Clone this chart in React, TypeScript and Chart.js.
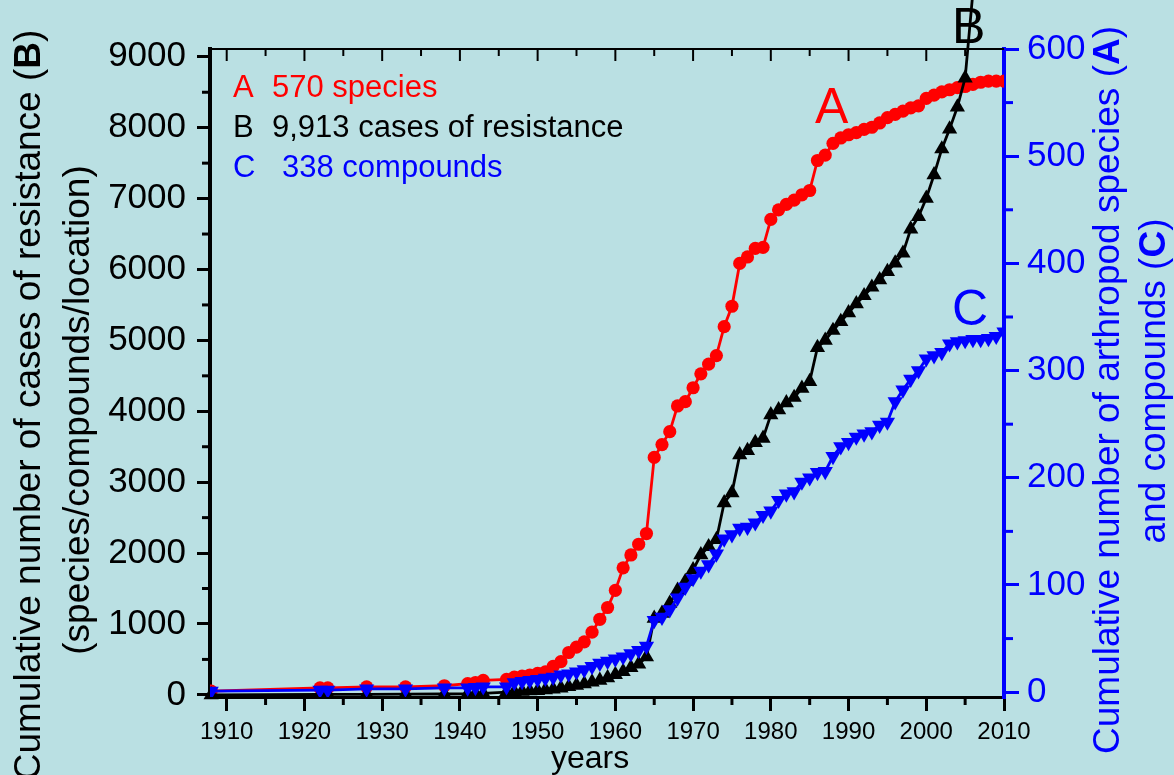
import React, { useEffect, useRef } from 'react';
import { Chart, registerables } from 'chart.js';

Chart.register(...registerables);

// ---------- data ----------
const YEARS = [
  1908, 1922, 1923, 1928, 1933, 1938, 1941, 1942, 1943,
  1946, 1947, 1948, 1949, 1950, 1951, 1952, 1953, 1954, 1955,
  1956, 1957, 1958, 1959, 1960, 1961, 1962, 1963, 1964, 1965,
  1966, 1967, 1968, 1969, 1970, 1971, 1972, 1973, 1974, 1975,
  1976, 1977, 1978, 1979, 1980, 1981, 1982, 1983, 1984, 1985,
  1986, 1987, 1988, 1989, 1990, 1991, 1992, 1993, 1994, 1995,
  1996, 1997, 1998, 1999, 2000, 2001, 2002, 2003, 2004, 2005,
  2006, 2007, 2008, 2009, 2010,
];

// A: cumulative arthropod species (right axis)
const SPECIES_A = [
  1, 4, 4, 5, 5, 6, 8, 9, 11,
  12, 14, 15, 16, 17.5, 19, 24, 28.5, 37, 42,
  47, 56, 68, 79, 95, 116, 128, 138, 148, 219,
  231, 243, 267, 271, 284, 297, 306, 314, 341, 360,
  400, 406, 414, 415, 441, 450, 455, 459, 464, 468,
  496, 501, 512, 517, 520, 522, 525, 527, 531, 536,
  539, 542, 545, 547, 554, 557, 560, 562, 564, 565,
  567, 569, 570, 570, 570,
];

// B: cumulative cases of resistance (left axis), data through 2006
const CASES_B = [
  1, 5, 6, 8, 10, 12, 15, 18, 22,
  40, 45, 50, 55, 60, 70, 80, 95, 115, 135,
  155, 180, 205, 240, 285, 330, 385, 435, 535, 1080,
  1150, 1290, 1475, 1600, 1765, 1975, 2090, 2190, 2710, 2850,
  3385, 3445, 3560, 3620, 3950, 4020, 4120, 4195, 4325, 4420,
  4900, 5000, 5140, 5265, 5390, 5515, 5630, 5750, 5855, 5970,
  6090, 6230, 6570, 6745, 7005, 7335, 7700, 7980, 8290, 8700,
  9913,
];

// C: cumulative compounds (right axis)
const COMPOUNDS_C = [
  1, 2, 2, 3, 3, 4, 4, 4.5, 5,
  5, 9, 10, 11, 12, 13, 14, 16, 17, 19,
  21, 24, 27, 29, 31, 33, 36, 39, 43, 67,
  70, 77, 88, 98, 106, 113, 119, 129, 143, 147,
  153, 154, 158, 165, 169, 179, 185, 187, 196, 200,
  205, 206, 220, 229, 233, 238, 241, 243, 249, 252,
  271, 282, 292, 300, 311, 314, 317, 325, 327, 328,
  329, 329, 330, 332, 336,
];

const X_TICKS = [1910, 1920, 1930, 1940, 1950, 1960, 1970, 1980, 1990, 2000, 2010];
const LEFT_TICKS = [0, 1000, 2000, 3000, 4000, 5000, 6000, 7000, 8000, 9000];
const RIGHT_TICKS = [0, 100, 200, 300, 400, 500, 600];

const LEGEND_LINES = [
  { key: 'A', text: '570 species' },
  { key: 'B', text: '9,913 cases of resistance' },
  { key: 'C', text: '338 compounds' },
];
const X_TITLE = 'years';
const LEFT_TITLE_1 = ['Cumulative number of cases of resistance (', 'B', ')'];
const LEFT_TITLE_2 = '(species/compounds/location)';
const RIGHT_TITLE_1 = ['Cumulative number of arthropod species (', 'A', ')'];
const RIGHT_TITLE_2 = ['and compounds (', 'C', ')'];

// ---------- style ----------
const BG = '#bae0e3';
const RED = '#ff0000';
const BLUE = '#0000ff';
const BLACK = '#000000';
const FONT = '"Liberation Sans", Arial, Helvetica, sans-serif';

const toPoints = (vals: number[]) => vals.map((v, i) => ({ x: YEARS[i], y: v }));

function drawRotated(
  ctx: CanvasRenderingContext2D,
  segs: string[],
  boldIndex: number,
  cx: number,
  cy: number,
  size: number,
  color: string
) {
  ctx.save();
  ctx.translate(cx, cy);
  ctx.rotate(-Math.PI / 2);
  const fonts = segs.map((_, i) => `${i === boldIndex ? 'bold ' : ''}${size}px ${FONT}`);
  const widths = segs.map((s, i) => {
    ctx.font = fonts[i];
    return ctx.measureText(s).width;
  });
  const total = widths.reduce((a, b) => a + b, 0);
  let x = -total / 2;
  ctx.fillStyle = color;
  ctx.textAlign = 'left';
  ctx.textBaseline = 'middle';
  segs.forEach((s, i) => {
    ctx.font = fonts[i];
    ctx.fillText(s, x, 0);
    x += widths[i];
  });
  ctx.restore();
}

const decorPlugin = {
  id: 'decor',
  beforeDraw(chart: any) {
    const ctx = chart.ctx as CanvasRenderingContext2D;
    ctx.save();
    ctx.fillStyle = BG;
    ctx.fillRect(0, 0, chart.width, chart.height);
    ctx.restore();
  },
  afterDraw(chart: any) {
    const ctx = chart.ctx as CanvasRenderingContext2D;
    const { top, bottom, left, right } = chart.chartArea;
    const xs = chart.scales.x;
    const yl = chart.scales.yL;
    const yr = chart.scales.yR;
    const line = (x1: number, y1: number, x2: number, y2: number) => {
      ctx.beginPath();
      ctx.moveTo(x1, y1);
      ctx.lineTo(x2, y2);
      ctx.stroke();
    };
    ctx.save();
    ctx.lineCap = 'butt';
    // top frame
    ctx.strokeStyle = BLACK;
    ctx.lineWidth = 2;
    line(left, top, right, top);
    for (let yv = 1910; yv < 2010; yv += 5) {
      const px = xs.getPixelForValue(yv);
      line(px, top, px, top + (yv % 10 === 0 ? 12 : 7));
    }
    // bottom minor ticks
    ctx.lineWidth = 3;
    for (let yv = 1915; yv < 2010; yv += 10) {
      const px = xs.getPixelForValue(yv);
      line(px, bottom, px, bottom + 8);
    }
    // left minor ticks
    for (let v = 500; v < 9000; v += 1000) {
      const py = yl.getPixelForValue(v);
      line(left - 8, py, left, py);
    }
    // right minor ticks
    ctx.strokeStyle = BLUE;
    for (let v = 50; v < 600; v += 100) {
      const py = yr.getPixelForValue(v);
      line(right, py, right + 9, py);
    }
    ctx.restore();

    // legend
    ctx.save();
    ctx.textAlign = 'left';
    ctx.textBaseline = 'alphabetic';
    ctx.font = `31px ${FONT}`;
    const colors = [RED, BLACK, BLUE];
    const baselines = [97, 137, 177];
    const textX = [272, 272, 282];
    LEGEND_LINES.forEach((l, i) => {
      ctx.fillStyle = colors[i];
      ctx.fillText(l.key, 233, baselines[i]);
      ctx.fillText(l.text, textX[i], baselines[i]);
    });

    // big series labels
    ctx.font = `50px ${FONT}`;
    ctx.fillStyle = RED;
    ctx.fillText('A', 815, 123);
    ctx.fillStyle = BLACK;
    ctx.fillText('B', 952, 43);
    ctx.fillStyle = BLUE;
    ctx.fillText('C', 952, 325);

    // x title
    ctx.fillStyle = BLACK;
    ctx.font = `32px ${FONT}`;
    ctx.textAlign = 'center';
    ctx.fillText(X_TITLE, 590, 768);
    ctx.restore();

    // axis titles
    drawRotated(ctx, LEFT_TITLE_1, 1, 30, 405, 37, BLACK);
    drawRotated(ctx, [LEFT_TITLE_2], -1, 79, 410, 37, BLACK);
    drawRotated(ctx, RIGHT_TITLE_1, 1, 1109, 390, 37, BLUE);
    drawRotated(ctx, RIGHT_TITLE_2, 1, 1155, 381, 37, BLUE);
  },
};

export default function App() {
  const canvasRef = useRef<HTMLCanvasElement | null>(null);

  useEffect(() => {
    document.body.style.margin = '0';
    document.body.style.background = BG;
    const canvas = canvasRef.current;
    if (!canvas) return;

    const chart = new Chart(canvas, {
      type: 'line',
      data: {
        datasets: [
          {
            label: 'C',
            data: toPoints(COMPOUNDS_C),
            yAxisID: 'yR',
            borderColor: BLUE,
            backgroundColor: BLUE,
            borderWidth: 2.8,
            pointStyle: 'triangle',
            rotation: 180,
            pointRadius: 8.8,
            pointBorderWidth: 0,
            pointBackgroundColor: BLUE,
            tension: 0,
          },
          {
            label: 'B',
            data: toPoints(CASES_B),
            yAxisID: 'yL',
            borderColor: BLACK,
            backgroundColor: BLACK,
            borderWidth: 2.8,
            pointStyle: 'triangle',
            pointRadius: 8.8,
            pointBorderWidth: 0,
            pointBackgroundColor: BLACK,
            tension: 0,
            clip: false,
          },
          {
            label: 'A',
            data: toPoints(SPECIES_A),
            yAxisID: 'yR',
            borderColor: RED,
            backgroundColor: RED,
            borderWidth: 2.8,
            pointStyle: 'circle',
            pointRadius: 6.6,
            pointBorderWidth: 0,
            pointBackgroundColor: RED,
            tension: 0,
          },
        ],
      },
      options: {
        responsive: false,
        animation: false,
        devicePixelRatio: 1,
        parsing: false as any,
        layout: { padding: { top: 49, left: 0, right: 0, bottom: 0 } },
        plugins: {
          legend: { display: false },
          tooltip: { enabled: false },
        },
        scales: {
          x: {
            type: 'linear',
            min: 1907.85,
            max: 2010,
            afterBuildTicks: (s: any) => {
              s.ticks = X_TICKS.map((v) => ({ value: v }));
            },
            afterFit: (s: any) => {
              s.height = 78;
            },
            grid: {
              drawOnChartArea: false,
              drawTicks: true,
              tickLength: 14,
              tickWidth: 3,
              lineWidth: 3,
              tickColor: BLACK,
              color: BLACK,
            },
            border: { display: true, color: BLACK, width: 3 },
            ticks: {
              color: BLACK,
              font: { family: FONT, size: 24 },
              padding: 7,
              maxRotation: 0,
              autoSkip: false,
              callback: (v: any) => String(v),
            },
          },
          yL: {
            type: 'linear',
            position: 'left',
            min: -30,
            max: 9110,
            afterBuildTicks: (s: any) => {
              s.ticks = LEFT_TICKS.map((v) => ({ value: v }));
            },
            afterFit: (s: any) => {
              s.width = 210;
            },
            grid: {
              drawOnChartArea: false,
              drawTicks: true,
              tickLength: 13,
              tickWidth: 3,
              lineWidth: 3,
              tickColor: BLACK,
              color: BLACK,
            },
            border: { display: true, color: BLACK, width: 4 },
            ticks: {
              color: BLACK,
              font: { family: FONT, size: 35 },
              padding: 11,
              autoSkip: false,
              callback: (v: any) => String(v),
            },
          },
          yR: {
            type: 'linear',
            position: 'right',
            min: -4.5,
            max: 600,
            afterBuildTicks: (s: any) => {
              s.ticks = RIGHT_TICKS.map((v) => ({ value: v }));
            },
            afterFit: (s: any) => {
              s.width = 170;
            },
            grid: {
              drawOnChartArea: false,
              drawTicks: true,
              tickLength: 15,
              tickWidth: 3,
              lineWidth: 3,
              tickColor: BLUE,
              color: BLUE,
            },
            border: { display: true, color: BLUE, width: 4 },
            ticks: {
              color: BLUE,
              font: { family: FONT, size: 35 },
              padding: 8,
              autoSkip: false,
              callback: (v: any) => String(v),
            },
          },
        },
      } as any,
      plugins: [decorPlugin],
    });

    return () => {
      chart.destroy();
    };
  }, []);

  return (
    <div style={{ width: 1174, height: 775, background: BG }}>
      <canvas ref={canvasRef} width={1174} height={775} style={{ display: 'block', width: 1174, height: 775 }} />
    </div>
  );
}
